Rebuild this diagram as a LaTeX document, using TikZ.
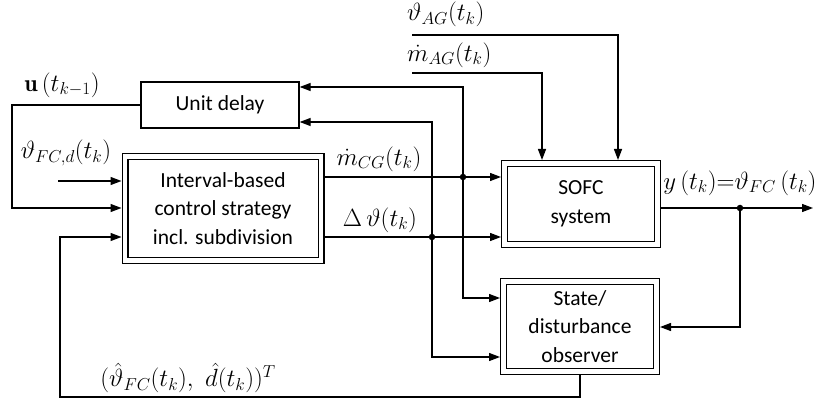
\documentclass[tikz,border=0pt]{standalone}
\usepackage{fontspec}
\setsansfont{Carlito}
\usetikzlibrary{arrows.meta}
\tikzset{
  blk/.style={draw, line width=1.3pt, inner sep=0pt, font=\sffamily\fontsize{21.5}{28.5}\selectfont, align=center},
  dbl/.style={blk, double, double distance=4.4pt, outer sep=3.5pt},
  conn/.style={line width=1.3pt, -{Triangle[length=11pt,width=8pt]}},
  jdot/.style={circle, fill, inner sep=0pt, minimum size=6.5pt},
  lbl/.style={inner sep=0pt, font=\fontsize{24}{28}\selectfont}
}
\begin{document}
\begin{tikzpicture}[x=1pt,y=-1pt]
\useasboundingbox (0,0) rectangle (821,403);
% blocks
\node[blk, minimum width=158pt, minimum height=46pt] (delay) at (220,105) {Unit delay};
\node[dbl, minimum width=196pt, minimum height=104pt] (ctrl) at (223,208.5) {Interval-based\\control strategy\\incl. subdivision};
\node[dbl, minimum width=153pt, minimum height=81pt] (sofc) at (581,204) {SOFC\\system};
\node[dbl, minimum width=153pt, minimum height=90pt] (obs) at (580,326.5) {State/\\disturbance\\observer};
% coordinates
\coordinate (j1) at (463,177);
\coordinate (j2) at (432,237);
\coordinate (j3) at (740,208);
\coordinate (out) at (813,208);
\coordinate (agt) at (412,35);
\coordinate (agm) at (412,73);
\coordinate (fcd) at (58,181);
\coordinate (fbl) at (60,397);
\coordinate (ul) at (12,208);
% connectors
\draw[conn] (ctrl.east |- j1) -- (sofc.west |- j1);
\draw[conn] (ctrl.east |- j2) -- (sofc.west |- j2);
\draw[conn] (j1) |- (delay.east |- 0,87);
\draw[conn] (j1) |- (obs.west |- 0,298);
\draw[conn] (j2) |- (delay.east |- 0,122);
\draw[conn] (j2) |- (obs.west |- 0,357);
\draw[conn] (sofc.east |- j3) -- (out);
\draw[conn] (j3) |- (obs.east |- 0,327);
\draw[conn] (obs.south) |- (fbl) |- (ctrl.west |- j2);
\draw[conn] (fcd) -- (ctrl.west |- fcd);
\draw[conn] (delay.west) -| (ul) -- (ctrl.west |- ul);
\draw[conn] (agt) -| (sofc.north -| 618,0);
\draw[conn] (agm) -| (sofc.north -| 542,0);
\node[jdot] (d1) at (j1) {};
\node[jdot] (d2) at (j2) {};
\node[jdot] (d3) at (j3) {};
% labels
\node[lbl] (lu) at (62,85) {$\mathbf{u}\,(t_{k-1})$};
\node[lbl] (lfcd) at (66,153) {$\vartheta_{FC,d}(t_k)$};
\node[lbl] (lmcg) at (379,159) {$\dot m_{CG}(t_k)$};
\node[lbl] (ldt) at (380,220) {$\Delta\,\vartheta(t_k)$};
\node[lbl, anchor=west] (lagt) at (407,14.5) {$\vartheta_{AG}(t_k)$};
\node[lbl, anchor=west] (lagm) at (407,55) {$\dot m_{AG}(t_k)$};
\node[lbl] (ly) at (740,183) {$y\,(t_k){=}\vartheta_{FC}\,(t_k)$};
\node[lbl] (lfb) at (188,378) {$(\hat\vartheta_{FC}(t_k),\ \hat d(t_k))^T$};
\end{tikzpicture}
\end{document}
